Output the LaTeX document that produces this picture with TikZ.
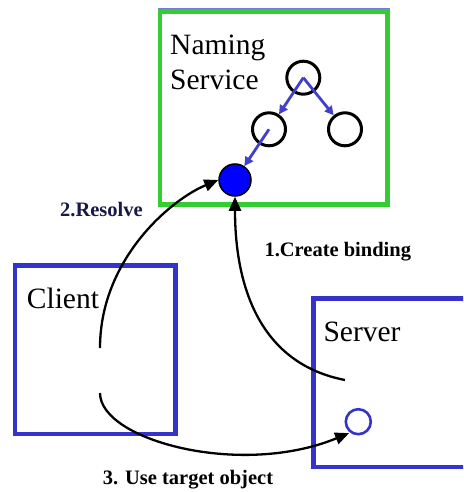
\documentclass[tikz,border=0pt]{standalone}
\usepackage{fontspec}
\setmainfont{Liberation Serif}
\usetikzlibrary{arrows.meta}
\definecolor{boxblue}{RGB}{52,52,204}
\definecolor{boxgreen}{RGB}{51,204,51}
\definecolor{treeblue}{RGB}{64,64,204}
\definecolor{topline}{RGB}{120,120,220}
\definecolor{labelnavy}{RGB}{25,25,70}
\definecolor{fillblue}{RGB}{0,0,255}
\begin{document}
\begin{tikzpicture}[x=1pt,y=-1pt,
  frame/.style={draw, line width=4.5pt, inner sep=0pt},
  tree/.style={circle, draw=black, line width=3pt, minimum size=33pt, inner sep=0pt},
  treearrow/.style={draw=treeblue, line width=2.8pt, -{Triangle[length=9pt,width=9pt]}},
  flow/.style={draw=black, line width=2.3pt, -{Triangle[length=14pt,width=12pt]}},
  big/.style={font=\fontsize{29.5}{35}\selectfont, inner sep=0pt},
  lbl/.style={font=\fontsize{20.5}{24}\selectfont\bfseries, inner sep=0pt},
]
\clip (0,0) rectangle (463,492);
\fill[white] (0,0) rectangle (463,492);

% boxes
\node (ns) [frame, draw=boxgreen, minimum width=227.7pt, minimum height=192.8pt] at (273.65,108.1) {};
\draw[topline, line width=1.2pt] ([yshift=0.6pt]ns.north west) -- ([yshift=0.6pt]ns.north east);
\node (client) [frame, draw=boxblue, minimum width=160.3pt, minimum height=168.7pt] at (95.15,349.65) {};
\node (server) [frame, draw=boxblue, minimum width=180pt, minimum height=168.7pt, anchor=west] at (311.3,382.65) {};

% texts
\node (nstext) [big, anchor=base west, align=left] at (170,90) {Naming\\Service};
\node (clienttext) [big, anchor=base west] at (26.7,308.3) {Client};
\node (servertext) [big, anchor=base west] at (323.3,341) {Server};

% naming tree
\node (root) [tree] at (303.3,77.7) {};
\node (c1) [tree] at (269,129.3) {};
\node (c2) [tree] at (345,129.3) {};
\node (target) [circle, draw=black, line width=1.5pt, fill=fillblue, minimum size=32pt, inner sep=0pt] at (235,180) {};
\node (obj) [circle, draw=boxblue, line width=2.6pt, minimum size=25pt, inner sep=0pt] at (358.3,421.7) {};

\draw[treearrow] (root.center) -- (c1);
\draw[treearrow] (root.center) -- (c2);
\draw[treearrow] (c1.center) -- (target);

% flows
\coordinate (cA) at (100,348);
\coordinate (cB) at (100,393);
\coordinate (sA) at (345,380);
\draw[flow] (cA) .. controls (100,260) and (170,200) .. (target.west);
\draw[flow] (sA) .. controls (262,364) and (235,290) .. (target.south);
\draw[flow, shorten >=1pt] (cB) .. controls (100,440) and (240,478) .. (obj.233);

% labels
\node (l2) [lbl, text=labelnavy, anchor=base west] at (60,216) {2.Resolve};
\node (l1) [lbl, anchor=base west] at (264.3,256.7) {1.Create binding};
\node (l3) [lbl, anchor=base west] at (102.7,484) {3. Use target object};
\end{tikzpicture}
\end{document}
